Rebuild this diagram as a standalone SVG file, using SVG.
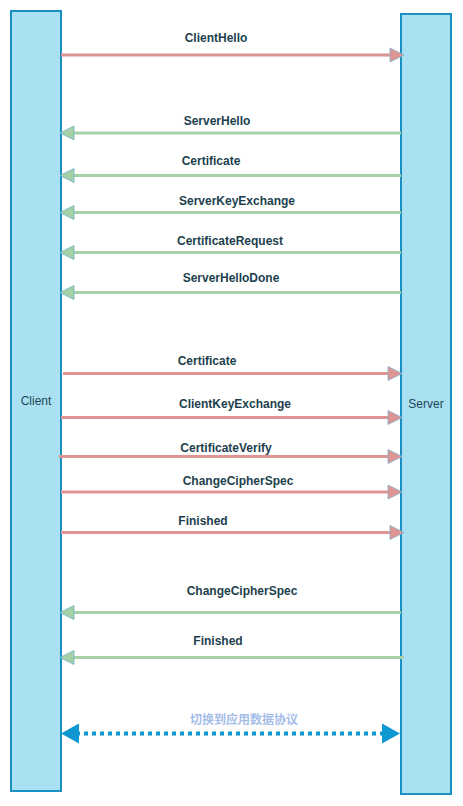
<svg xmlns="http://www.w3.org/2000/svg" width="463" height="806" viewBox="0 0 463 806">
<style>
.life{fill:#a9e1f3;stroke:#1b8fc2;stroke-width:2}
.lbl{font-family:"Liberation Sans",Arial,sans-serif;font-size:12px;fill:#234654;text-anchor:middle}
.msg{font-family:"Liberation Sans",Arial,sans-serif;font-size:12px;font-weight:bold;fill:#1d3f4d;text-anchor:middle}
.cn{font-family:"Liberation Sans","Noto Sans CJK SC",sans-serif;font-size:12px;font-weight:bold;fill:#a6bde9;text-anchor:middle}
.req{stroke:#df9494;stroke-width:3;fill:none;marker-end:url(#ar)}
.rsp{stroke:#a6d1a6;stroke-width:3;fill:none;marker-end:url(#ag)}
.dot{stroke:#0f97d2;stroke-width:4;stroke-dasharray:4 4;fill:none;marker-start:url(#ab);marker-end:url(#ab)}
</style>
<defs>
<marker id="ar" markerUnits="userSpaceOnUse" markerWidth="16" markerHeight="16" viewBox="0 0 16 16" refX="9" refY="8" orient="auto">
<path d="M1,1 L15,8 L1,15 Z" fill="#df9494" stroke="#7fb0cc" stroke-width="0.8"/>
</marker>
<marker id="ag" markerUnits="userSpaceOnUse" markerWidth="16" markerHeight="16" viewBox="0 0 16 16" refX="9" refY="8" orient="auto">
<path d="M1,1 L15,8 L1,15 Z" fill="#a6d1a6" stroke="#6fb3cf" stroke-width="0.8"/>
</marker>
<marker id="ab" markerUnits="userSpaceOnUse" markerWidth="20" markerHeight="22" viewBox="0 0 20 22" refX="12" refY="11" orient="auto-start-reverse">
<path d="M1,1 L19,11 L1,21 Z" fill="#0f97d2"/>
</marker>
</defs>
<g id="client"><rect class="life" x="11" y="11" width="50" height="780"/><text class="lbl" x="36" y="405">Client</text></g>
<g id="server"><rect class="life" x="401" y="14" width="50" height="780"/><text class="lbl" x="426" y="408">Server</text></g>
<g id="connectors">
<path class="req" d="M61,55 H398"/>
<path class="rsp" d="M401,133 H66"/>
<path class="rsp" d="M401,175.5 H66"/>
<path class="rsp" d="M401,212.5 H66"/>
<path class="rsp" d="M401,252.5 H66"/>
<path class="rsp" d="M401,292.5 H66"/>
<path class="req" d="M63,373.5 H396"/>
<path class="req" d="M61,417.5 H396"/>
<path class="req" d="M59,456.5 H396"/>
<path class="req" d="M61,492 H396"/>
<path class="req" d="M61,532.5 H398"/>
<path class="rsp" d="M401,612.5 H66"/>
<path class="rsp" d="M404,657.5 H66"/>
<path class="dot" d="M68,733.5 H393"/>
</g>
<g id="labels">
<text class="msg" x="216" y="42">ClientHello</text>
<text class="msg" x="217" y="124.5">ServerHello</text>
<text class="msg" x="211" y="165">Certificate</text>
<text class="msg" x="237" y="205">ServerKeyExchange</text>
<text class="msg" x="230" y="245">CertificateRequest</text>
<text class="msg" x="231" y="281.5">ServerHelloDone</text>
<text class="msg" x="207" y="365">Certificate</text>
<text class="msg" x="235" y="407.5">ClientKeyExchange</text>
<text class="msg" x="226" y="452">CertificateVerify</text>
<text class="msg" x="238" y="484.5">ChangeCipherSpec</text>
<text class="msg" x="203" y="524.5">Finished</text>
<text class="msg" x="242" y="595">ChangeCipherSpec</text>
<text class="msg" x="218" y="645">Finished</text>
<text class="cn" x="244" y="723.5">切换到应用数据协议</text>
</g>
</svg>
